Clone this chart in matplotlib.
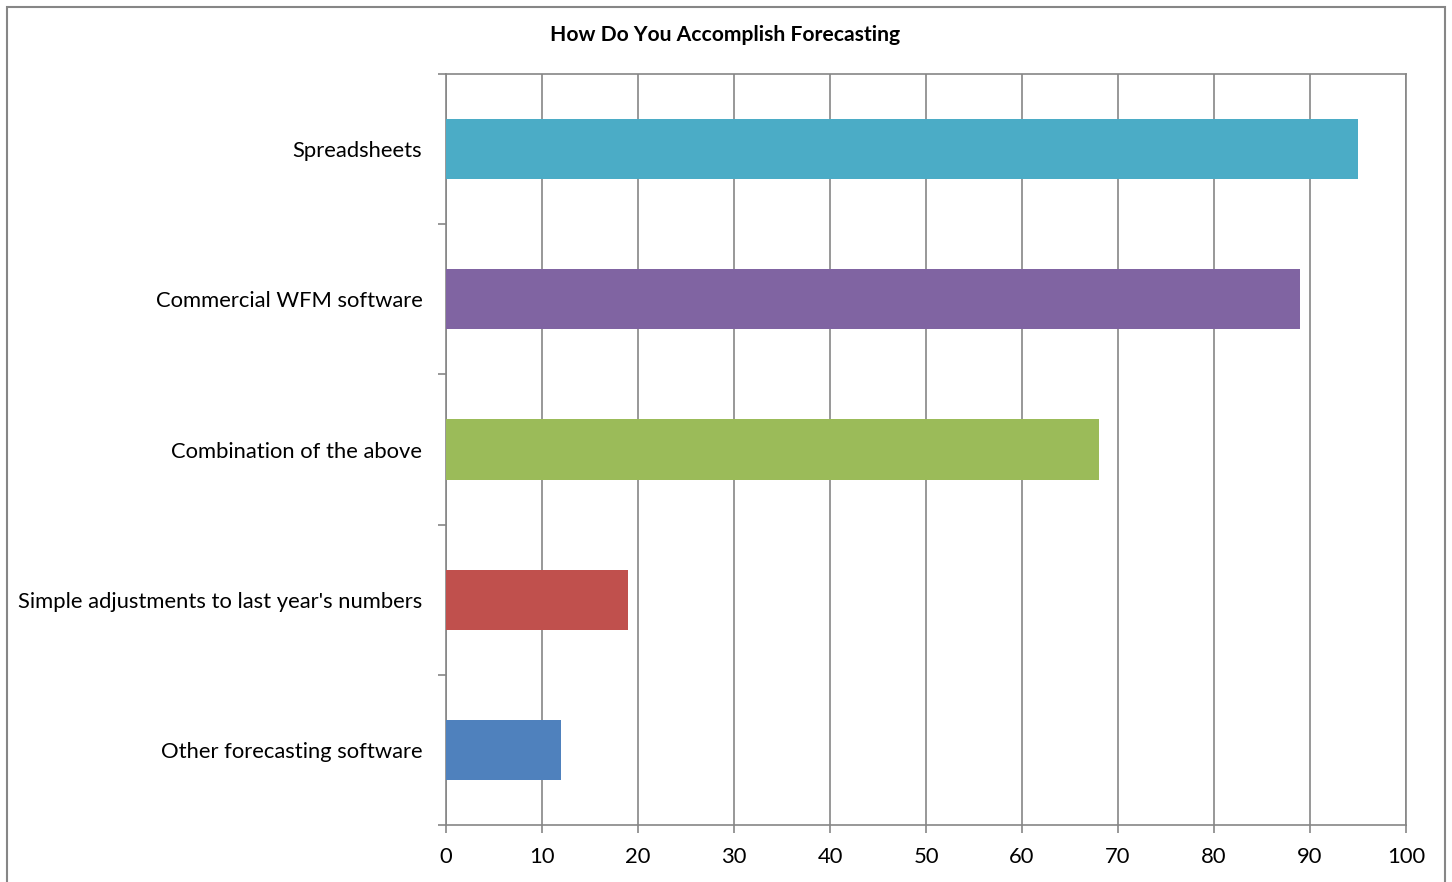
import matplotlib
matplotlib.use("Agg")
import matplotlib.pyplot as plt
from matplotlib.patches import Rectangle
import numpy as np

categories = ["Other forecasting software", "Simple adjustments to last year's numbers",
              "Combination of the above", "Commercial WFM software", "Spreadsheets"]
values = [12, 19, 68, 89, 95]
colors = ["#4F81BD", "#C0504D", "#9BBB59", "#8064A2", "#4BACC6"]
xticks = [0, 10, 20, 30, 40, 50, 60, 70, 80, 90, 100]
title = "How Do You Accomplish Forecasting"

plt.rcParams['font.family'] = ['Lato', 'DejaVu Sans']
W, H = 1452, 882
fig = plt.figure(figsize=(W/100, H/100), dpi=100)
ax = fig.add_axes([446/W, 1-825/H, (1406-446)/W, (825-74)/H])

gray = "#868686"
y = np.arange(len(categories))
ax.barh(y, values, height=0.4, color=colors, zorder=3)
ax.set_xlim(0, 100)
ax.set_ylim(-0.5, len(categories)-0.5)
ax.set_xticks(xticks)
ax.set_xticklabels([str(t) for t in xticks], fontsize=15.8)
ax.set_yticks(y)
ax.set_yticklabels(categories, fontsize=15.8)
ax.set_yticks(np.arange(-0.5, len(categories), 1), minor=True)
ax.tick_params(axis='y', which='major', length=0, pad=17)
ax.tick_params(axis='y', which='minor', length=6, color=gray, width=1.2)
ax.tick_params(axis='x', length=6, color=gray, width=1.2, pad=10)
ax.grid(axis='x', color=gray, linewidth=1.2, zorder=0)
for s in ax.spines.values():
    s.set_color(gray)
    s.set_linewidth(1.2)

fig.text(725/W, 1-35/H, title, ha='center', va='center', fontsize=15.2, fontweight='bold')
fig.patches.append(Rectangle((6.5/W, -0.05), (1445-6.5)/W, 1.05-6.5/H, transform=fig.transFigure,
                             fill=False, edgecolor=gray, linewidth=1.5))
fig.savefig("out.png", dpi=100)
